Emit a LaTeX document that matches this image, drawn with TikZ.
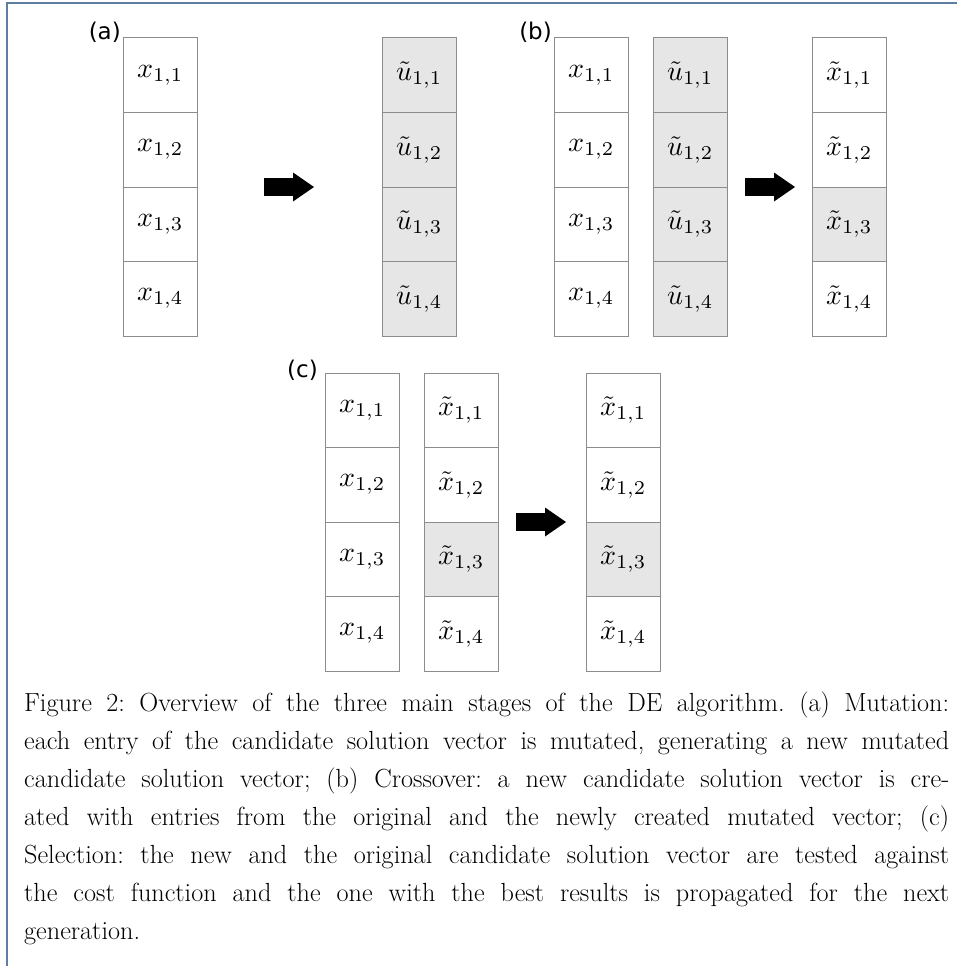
\documentclass[tikz,border=0pt]{standalone}
\usepackage{graphicx}
\usepackage{fontspec}
\newfontfamily\labfont{DejaVu Sans}
\usetikzlibrary{arrows.meta}
\definecolor{framec}{RGB}{95,125,160}
\definecolor{cellline}{RGB}{140,140,140}
\definecolor{cellfill}{RGB}{230,230,230}
\newcommand{\cellm}[1]{\scalebox{2.8}{$#1$}}
\newlength{\capwidth}
\settowidth{\capwidth}{\fontsize{10}{12}\selectfont\frenchspacing Figure 2: Overview of the three main stages of the DE algorithm. (a) Mutation:}
\pgfmathsetmacro{\capfs}{10*918/\capwidth}
\begin{document}
\begin{tikzpicture}[x=1pt,y=-1pt,
  cell/.style={draw=cellline, line width=1pt, minimum width=74.5pt, minimum height=74.5pt, inner sep=0pt},
  shaded/.style={cell, fill=cellfill},
  blockarrow/.style={line width=18pt, -{Triangle[length=21pt,width=29pt,line width=0pt]}},
  lab/.style={font=\labfont\fontsize{23}{26}\selectfont, anchor=base east, inner sep=0pt},
  capline/.style={anchor=base west, inner sep=0pt, font=\fontsize{\capfs}{37.5}\selectfont\frenchspacing}]
\useasboundingbox (0,0) rectangle (957,966);
\draw[framec, line width=2pt] (7,966) -- (7,3.5) -- (957,3.5);
% (a)
\foreach \r/\s in {1/cell,2/cell,3/cell,4/cell} {
  \node[\s] (a1r\r) at (160.25, {38+74.5*(\r-0.5)}) {\cellm{x_{1,\r}}};
  \node[shaded] (a2r\r) at (419.25, {38+74.5*(\r-0.5)}) {\cellm{\tilde{u}_{1,\r}}};
}
% (b)
\foreach \r/\s in {1/cell,2/cell,3/shaded,4/cell} {
  \node[cell] (b1r\r) at (591.25, {38+74.5*(\r-0.5)}) {\cellm{x_{1,\r}}};
  \node[shaded] (b2r\r) at (690.25, {38+74.5*(\r-0.5)}) {\cellm{\tilde{u}_{1,\r}}};
  \node[\s] (b3r\r) at (849.25, {38+74.5*(\r-0.5)}) {\cellm{\tilde{x}_{1,\r}}};
}
% (c)
\foreach \r/\s in {1/cell,2/cell,3/shaded,4/cell} {
  \node[cell] (c1r\r) at (362.25, {373+74.5*(\r-0.5)}) {\cellm{x_{1,\r}}};
  \node[\s] (c2r\r) at (461.25, {373+74.5*(\r-0.5)}) {\cellm{\tilde{x}_{1,\r}}};
  \node[\s] (c3r\r) at (623.25, {373+74.5*(\r-0.5)}) {\cellm{\tilde{x}_{1,\r}}};
}
\node[lab] (la) at (121,39.5) {(a)};
\node[lab] (lb) at (552,39.5) {(b)};
\node[lab] (lc) at (318,377) {(c)};
\coordinate (aS) at (264,187); \coordinate (aE) at (314,187);
\coordinate (bS) at (745,187); \coordinate (bE) at (795,187);
\coordinate (cS) at (516,522); \coordinate (cE) at (566,522);
\draw[blockarrow] (aS) -- (aE);
\draw[blockarrow] (bS) -- (bE);
\draw[blockarrow] (cS) -- (cE);
\node[capline] (cap1) at (24,711) {\makebox[925pt][s]{Figure 2: Overview of the three main stages of the DE algorithm. (a) Mutation:}};
\node[capline] (cap2) at (24,749) {\makebox[925pt][s]{each entry of the candidate solution vector is mutated, generating a new mutated}};
\node[capline] (cap3) at (24,787) {\makebox[925pt][s]{candidate solution vector; (b) Crossover: a new candidate solution vector is cre-}};
\node[capline] (cap4) at (24,825) {\makebox[925pt][s]{ated with entries from the original and the newly created mutated vector; (c)}};
\node[capline] (cap5) at (24,863) {\makebox[925pt][s]{Selection: the new and the original candidate solution vector are tested against}};
\node[capline] (cap6) at (24,901) {\makebox[925pt][s]{the cost function and the one with the best results is propagated for the next}};
\node[capline] (cap7) at (24,939) {generation.};
\end{tikzpicture}
\end{document}
